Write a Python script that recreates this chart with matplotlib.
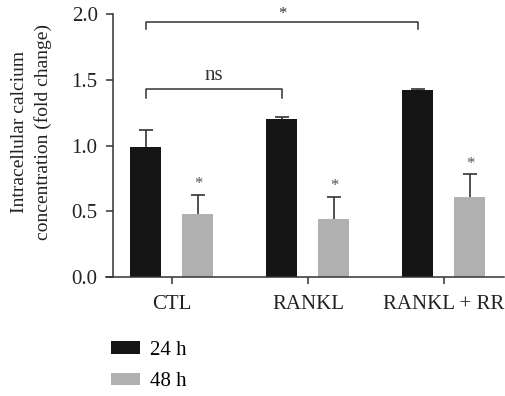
import matplotlib
matplotlib.use("Agg")
import matplotlib.pyplot as plt
import numpy as np

plt.rcParams['font.family'] = ['Liberation Serif', 'DejaVu Serif']

# data
groups = ['CTL', 'RANKL', 'RANKL + RR']
series = ['24 h', '48 h']
vals_24 = [0.99, 1.20, 1.42]
err_24 = [0.13, 0.02, 0.012]
vals_48 = [0.48, 0.44, 0.61]
err_48 = [0.145, 0.17, 0.17]

colors = ['#151515', '#b0b0b0']
ink = '#333333'
fs = 15

fig = plt.figure(figsize=(5.05, 3.96), dpi=100)
ax = fig.add_axes([0.2099, 0.3005, 0.788, 0.6641])

x = np.arange(len(groups))
off = 0.191
w = 0.228

b1 = ax.bar(x - off, vals_24, w, color=colors[0], label=series[0], zorder=2)
b2 = ax.bar(x + off, vals_48, w, color=colors[1], label=series[1], zorder=2)

# upper-only error bars (hide the lower caps)
for xs, v, e in [(x - off, vals_24, err_24), (x + off, vals_48, err_48)]:
    eb = ax.errorbar(xs, v, yerr=[np.zeros(3), e], fmt='none',
                     ecolor=ink, elinewidth=1.2, capsize=5, capthick=1.2, zorder=1)
    eb[1][0].set_visible(False)

# stars over the 48 h bars
for xi, v, e in zip(x + off, vals_48, err_48):
    ax.text(xi, v + e + 0.08, '*', ha='center', va='center',
            fontsize=12, color='#555555')

# significance brackets
def bracket(x0, x1, top, leg, label, ly, size):
    ax.plot([x0, x0, x1, x1], [top - leg, top, top, top - leg],
            color=ink, lw=1.1, clip_on=False)
    ax.text((x0 + x1) / 2, ly, label, ha='center', va='center',
            fontsize=size, color='#333333', clip_on=False)

bracket(x[0] - off, x[1] - off, 1.43, 0.065, 'ns', 1.53, fs)
bracket(x[0] - off, x[2] - off, 1.94, 0.056, '*', 2.0, 12)

ax.set_ylim(0, 2.0)
ax.set_xlim(-0.485, 2.441)
ax.set_yticks([0.0, 0.5, 1.0, 1.5, 2.0])
ax.set_yticklabels(['0.0', '0.5', '1.0', '1.5', '2.0'])
ax.set_xticks(x)
ax.set_xticklabels(groups)

ax.spines['top'].set_visible(False)
ax.spines['right'].set_visible(False)
ax.spines['left'].set_position(('data', -0.434))
for s in ['left', 'bottom']:
    ax.spines[s].set_linewidth(1.1)
    ax.spines[s].set_color(ink)
ax.tick_params(axis='both', length=5, width=1.1, color=ink,
               labelsize=fs, labelcolor='#222222')
ax.tick_params(axis='x', pad=8)
ax.tick_params(axis='y', pad=6)

ax.set_ylabel('Intracellular calcium\nconcentration (fold change)',
              fontsize=14, color='#222222', linespacing=1.45)
ax.yaxis.set_label_coords(-0.136, 0.55)

ax.legend(handles=[b1, b2], loc='upper left', bbox_to_anchor=(0.22, 0.139),
          bbox_transform=fig.transFigure, frameon=False, fontsize=fs,
          handlelength=1.4, handleheight=0.55, handletextpad=0.45,
          labelspacing=0.6, borderaxespad=0, borderpad=0)

fig.savefig('out.png', dpi=100)
